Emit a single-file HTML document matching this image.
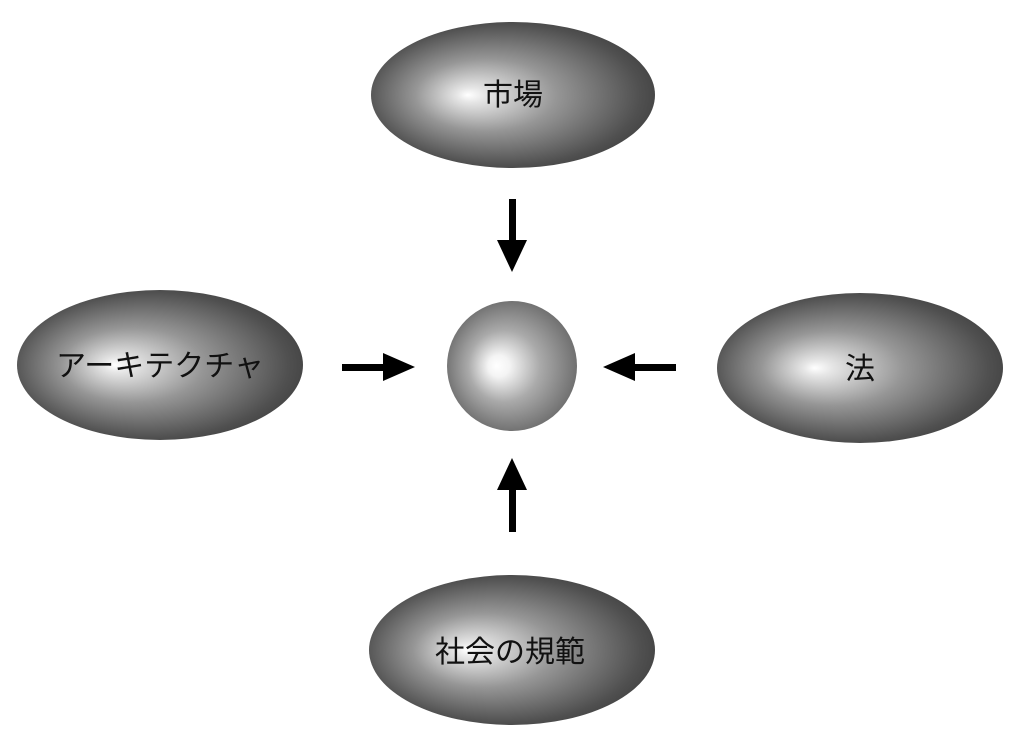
<!DOCTYPE html>
<html><head><meta charset="utf-8"><style>
html,body{margin:0;padding:0;background:#fff;}
svg{display:block}
text{font-family:"Liberation Sans","Noto Sans CJK JP",sans-serif;fill:#111;}
</style></head><body>
<svg width="1024" height="736" viewBox="0 0 1024 736" xmlns="http://www.w3.org/2000/svg">
<defs>
<radialGradient id="g" cx="0.5" cy="0.5" r="0.62" fx="0.34" fy="0.5">
<stop offset="0" stop-color="#ffffff"/>
<stop offset="0.08" stop-color="#e6e6e6"/>
<stop offset="0.4" stop-color="#969696"/>
<stop offset="0.78" stop-color="#505050"/>
<stop offset="1" stop-color="#333"/>
</radialGradient>
<radialGradient id="s" cx="0.5" cy="0.5" r="0.55" fx="0.38" fy="0.5">
<stop offset="0" stop-color="#ffffff"/>
<stop offset="0.15" stop-color="#f4f4f4"/>
<stop offset="0.5" stop-color="#aaa"/>
<stop offset="1" stop-color="#666"/>
</radialGradient>
</defs>
<ellipse cx="513" cy="95" rx="142" ry="73" fill="url(#g)"/>
<ellipse cx="160" cy="365" rx="143" ry="75" fill="url(#g)"/>
<ellipse cx="860" cy="368" rx="143" ry="75" fill="url(#g)"/>
<ellipse cx="512" cy="650" rx="143" ry="75" fill="url(#g)"/>
<circle cx="512" cy="366" r="65" fill="url(#s)"/>
<g fill="#000">
<rect x="509" y="199" width="7" height="45"/><polygon points="497,240 527,240 512,272"/>
<rect x="342" y="364" width="45" height="7"/><polygon points="383,353 383,381 415,367"/>
<rect x="631" y="364" width="45" height="7"/><polygon points="635,353 635,381 603,367"/>
<rect x="509" y="488" width="7" height="44"/><polygon points="497,490 527,490 512,458"/>
</g>
<text x="513" y="105" font-size="30" text-anchor="middle">市場</text>
<text x="160" y="376" font-size="30" text-anchor="middle">アーキテクチャ</text>
<text x="860" y="379" font-size="30" text-anchor="middle">法</text>
<text x="510" y="662" font-size="30" text-anchor="middle">社会の規範</text>
</svg>
</body></html>
